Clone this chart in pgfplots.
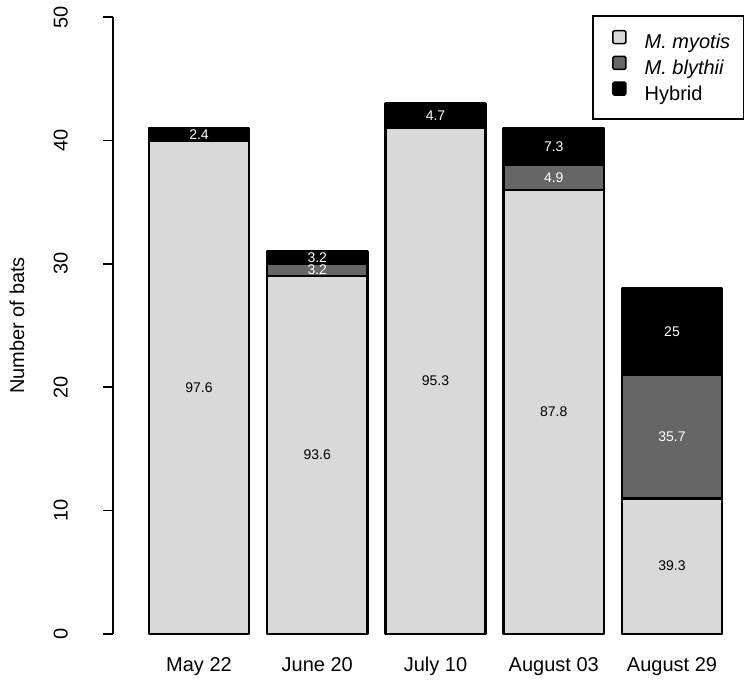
\documentclass[border=0pt]{standalone}
\usepackage{pgfplots}
\pgfplotsset{compat=1.18}
\usepackage{fontspec}
\setmainfont{Liberation Sans}
\definecolor{myo}{HTML}{D9D9D9}
\definecolor{bly}{HTML}{666666}
\begin{document}
\begin{tikzpicture}
\begin{axis}[
  scale only axis, width=637pt, height=617pt,
  xmin=0.2727, xmax=5.6596, ymin=0, ymax=50,
  clip=false,
  ybar stacked, bar width=0.846,
  axis y line*=left, axis x line*=bottom,
  x axis line style={draw=none},
  y axis line style={line width=1.5pt, -},
  xtick={1,2,3,4,5},
  xticklabels={May 22, June 20, July 10, August 03, August 29},
  major x tick style={draw=none},
  ytick={0,10,20,30,40,50},
  tick align=outside, major tick length=10pt,
  major y tick style={line width=1.5pt, black},
  yticklabel style={rotate=90, anchor=south, inner sep=0pt},
  yticklabel shift=35pt,
  xticklabel style={anchor=base, inner sep=0pt},
  xticklabel shift=27pt,
  ticklabel style={font=\fontsize{20}{24}\selectfont},
  /pgf/number format/assume math mode=true,
  legend cell align=left,
  legend style={at={(0.9906,1.0032)}, anchor=north east, draw=black, line width=1.5pt,
    font=\fontsize{20}{24}\selectfont, row sep=2pt, inner xsep=13pt, inner ysep=14pt,
    nodes={inner sep=0pt, text height=14pt, text depth=5pt},
    /tikz/every odd column/.append style={column sep=18pt}},
  legend image code/.code={\path (0pt,0pt); \draw[#1, line width=1.6pt, rounded corners=1.5pt] (5.5pt,0.5pt) rectangle (18.5pt,13.5pt);},
]
\addplot[fill=myo, draw=black, line width=2.5pt, line join=round] coordinates {(1,40) (2,29) (3,41) (4,36) (5,11)};
\addlegendentry{\textit{M. myotis}}
\addplot[fill=bly, draw=black, line width=2.5pt, line join=round] coordinates {(1,0) (2,1) (3,0) (4,2) (5,10)};
\addlegendentry{\textit{M. blythii}}
\addplot[fill=black, draw=black, line width=2.5pt, line join=round] coordinates {(1,1) (2,1) (3,2) (4,3) (5,7)};
\addlegendentry{Hybrid}
\node[rotate=90, font=\fontsize{20}{24}\selectfont] at (axis description cs:-0.1507,0.5) {Number of bats};
\end{axis}
\begin{axis}[
  scale only axis, width=637pt, height=617pt,
  xmin=0.2727, xmax=5.6596, ymin=0, ymax=50,
  hide axis,
  point meta=explicit symbolic,
]
\addplot[only marks, mark=none, nodes near coords,
  every node near coord/.append style={anchor=center, text=black, font=\fontsize{14}{16}\selectfont}]
  table[meta=label] {
x y label
1 20 97.6
2 14.5 93.6
3 20.5 95.3
4 18 87.8
5 5.5 39.3
};
\addplot[only marks, mark=none, nodes near coords,
  every node near coord/.append style={anchor=center, text=white, font=\fontsize{14}{16}\selectfont}]
  table[meta=label] {
x y label
1 40.5 2.4
2 29.5 3.2
2 30.5 3.2
3 42 4.7
4 37 4.9
4 39.5 7.3
5 16 35.7
5 24.5 25
};
\end{axis}
\pgfresetboundingbox
\path[use as bounding box] (-113pt,-60pt) rectangle (637pt,634pt);
\end{tikzpicture}
\end{document}
